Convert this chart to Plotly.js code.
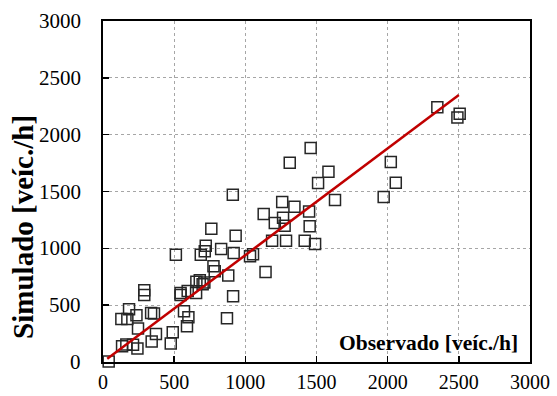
<!DOCTYPE html>
<html><head><meta charset="utf-8">
<script src="https://cdn.plot.ly/plotly-3.0.1.min.js"></script>
<style>body{margin:0;background:#fff}#c{width:557px;height:396px}</style>
</head><body><div id="c"></div>
<script>
const observado = [40,134,164,211,242,129,171,183,235,246,290,290,338,358,342,372,476,490,512,545,545,569,600,590,595,654,656,680,712,700,687,715,722,761,776,785,830,871,880,912,914,918,932,1033,1054,1129,1142,1188,1207,1259,1265,1276,1286,1312,1345,1417,1448,1452,1459,1490,1511,1584,1630,1972,2022,2057,2349,2506,2490];
const simulado  = [5,139,154,151,119,379,379,464,411,294,632,590,432,426,180,247,163,262,944,608,590,446,394,315,625,608,705,720,700,683,944,974,1023,1172,842,798,994,384,760,1471,578,959,1110,930,948,1302,792,1067,1223,1407,1270,1199,1067,1753,1366,1067,1325,1195,1882,1038,1574,1674,1425,1452,1759,1576,2242,2183,2151];
const lineX = [30, 2500];
const lineY = [28, 2350];
const xTitle = 'Observado [veíc./h]';
const yTitle = 'Simulado [veíc./h]';
const tickVals = [0,500,1000,1500,2000,2500,3000];

const font = 'Liberation Serif';
const data = [
  {x:observado, y:simulado, type:'scatter', mode:'markers', cliponaxis:false,
   marker:{symbol:'square-open', size:11, color:'#262626', line:{width:1.5}}, hoverinfo:'skip'},
  {x:lineX, y:lineY, type:'scatter', mode:'lines', line:{color:'#C00000', width:2.5}, hoverinfo:'skip'}
];
const common = {
  range:[0,3000], tickvals:tickVals, showgrid:true, gridcolor:'#A6A6A6', griddash:'dot', gridwidth:1,
  zeroline:false, showline:true, linecolor:'#000', linewidth:2, mirror:true,
  ticks:'inside', ticklen:6, tickwidth:1.5, tickcolor:'#000',
  tickfont:{family:font, size:20, color:'#000'}
};
const yTickAnn = tickVals.map(v => ({
  text:String(v), xref:'paper', yref:'y', x:-0.047, y:v, xanchor:'right', yanchor:'middle',
  showarrow:false, font:{family:font, size:21, color:'#000'}
}));
const layout = {
  width:557, height:396, showlegend:false,
  margin:{l:103, r:27, t:21, b:34},
  paper_bgcolor:'#fff', plot_bgcolor:'#fff',
  xaxis:Object.assign({}, common, {ticklabelstandoff:1}),
  yaxis:Object.assign({}, common, {showticklabels:false}),
  annotations:yTickAnn.concat([
    {text:'<b>'+xTitle+'</b>', xref:'x', yref:'y', x:2930, y:171, xanchor:'right', yanchor:'middle',
     showarrow:false, font:{family:font, size:21.5, color:'#000'}},
    {text:'<b>'+yTitle+'</b>', xref:'paper', yref:'paper', x:-0.186, y:0.395, xanchor:'center', yanchor:'middle',
     textangle:-90, showarrow:false, font:{family:font, size:29, color:'#000'}}
  ])
};
Plotly.newPlot('c', data, layout, {displayModeBar:false, staticPlot:true});
</script></body></html>
